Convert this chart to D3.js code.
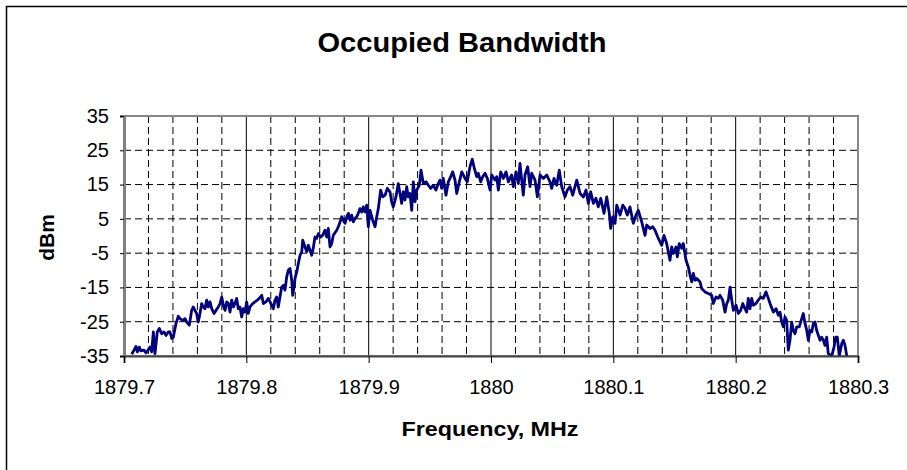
<!DOCTYPE html>
<html><head><meta charset="utf-8">
<script src="https://cdn.jsdelivr.net/npm/d3@7"></script>
<style>html,body{margin:0;padding:0;background:#fff;} svg{display:block;font-family:Arial,"Liberation Sans",sans-serif;}</style>
</head><body><svg id="c" width="907" height="470"></svg>
<script>
const chartTitle = "Occupied Bandwidth";
const xTitle = "Frequency, MHz";
const yTitle = "dBm";
const xTicks = [1879.7,1879.8,1879.9,1880,1880.1,1880.2,1880.3];
const xTickLabels = ["1879.7","1879.8","1879.9","1880","1880.1","1880.2","1880.3"];
const yTicks = [-35,-25,-15,-5,5,15,25,35];
const yTickLabels = ["-35","-25","-15","-5","5","15","25","35"];
const freq = [
1879.7063,1879.7082,1879.7098,1879.7109,1879.7125,1879.7137,1879.7163,1879.7180,1879.7199,1879.7213,1879.7226,1879.7240,1879.7253,1879.7272,1879.7289,1879.7308,1879.7327,1879.7343,1879.7362,1879.7376,1879.7390,1879.7403,1879.7425,1879.7444,1879.7458,1879.7480,1879.7499,1879.7513,1879.7534,1879.7553,1879.7566,1879.7580,1879.7594,1879.7607,1879.7621,1879.7635,1879.7648,1879.7662,1879.7676,1879.7689,1879.7703,1879.7717,1879.7736,1879.7752,1879.7771,1879.7785,1879.7799,1879.7812,1879.7826,1879.7840,1879.7853,1879.7867,1879.7880,1879.7894,1879.7907,1879.7921,1879.7934,
1879.7948,1879.7962,1879.7975,1879.7989,1879.8003,1879.8016,1879.8030,1879.8052,1879.8071,1879.8090,1879.8106,1879.8126,1879.8139,1879.8161,1879.8180,1879.8194,1879.8221,1879.8234,1879.8248,1879.8261,1879.8275,1879.8289,1879.8302,1879.8316,1879.8330,1879.8343,1879.8357,1879.8371,1879.8379,1879.8390,1879.8398,1879.8412,1879.8425,1879.8439,1879.8453,1879.8461,1879.8480,1879.8494,1879.8507,1879.8520,1879.8534,1879.8547,1879.8561,1879.8575,1879.8588,1879.8608,1879.8624,1879.8643,1879.8657,1879.8670,1879.8684,1879.8698,1879.8711,1879.8739,1879.8752,1879.8766,1879.8780,1879.8793,1879.8807,1879.8821,1879.8834,1879.8848,1879.8861,1879.8875,1879.8888,1879.8902,1879.8915,1879.8929,1879.8943,1879.8956,1879.8970,1879.8984,1879.8997,1879.9011,
1879.9033,1879.9052,1879.9066,1879.9079,1879.9098,1879.9115,1879.9134,1879.9152,1879.9174,1879.9188,1879.9201,1879.9223,1879.9242,1879.9256,1879.9270,1879.9283,1879.9297,1879.9311,1879.9324,1879.9338,1879.9352,1879.9365,1879.9379,1879.9393,1879.9414,1879.9428,1879.9447,1879.9469,1879.9488,1879.9507,1879.9528,1879.9550,1879.9569,1879.9583,1879.9597,1879.9610,1879.9632,1879.9651,1879.9671,1879.9687,1879.9706,1879.9720,1879.9741,1879.9761,1879.9788,1879.9806,1879.9828,1879.9847,1879.9864,1879.9883,1879.9896,1879.9916,1879.9932,1879.9951,1879.9970,1879.9992,
1880.0006,1880.0033,1880.0047,1880.0060,1880.0079,1880.0101,1880.0123,1880.0142,1880.0169,1880.0182,1880.0204,1880.0223,1880.0237,1880.0251,1880.0264,1880.0278,1880.0300,1880.0319,1880.0333,1880.0360,1880.0379,1880.0401,1880.0428,1880.0456,1880.0482,1880.0496,1880.0515,1880.0537,1880.0558,1880.0578,1880.0605,1880.0624,1880.0646,1880.0668,1880.0701,1880.0728,1880.0755,1880.0777,1880.0796,1880.0815,1880.0837,1880.0858,1880.0877,1880.0897,1880.0924,1880.0946,1880.0967,1880.0978,1880.0995,1880.1014,1880.1028,1880.1055,1880.1077,1880.1096,1880.1114,1880.1136,1880.1163,1880.1185,1880.1204,1880.1232,1880.1259,1880.1273,1880.1300,1880.1322,1880.1341,1880.1368,1880.1396,1880.1414,1880.1436,1880.1463,1880.1477,1880.1490,
1880.1512,1880.1523,1880.1539,1880.1559,1880.1572,1880.1594,1880.1613,1880.1627,1880.1641,1880.1654,1880.1668,1880.1682,1880.1709,1880.1722,1880.1749,1880.1776,1880.1804,1880.1817,1880.1839,1880.1858,1880.1872,1880.1894,1880.1913,1880.1927,1880.1940,1880.1954,1880.1968,1880.1981,1880.2003,1880.2022,1880.2041,1880.2058,1880.2076,1880.2090,1880.2103,1880.2117,1880.2131,1880.2144,1880.2166,1880.2185,1880.2205,1880.2226,1880.2248,1880.2267,1880.2281,1880.2308,1880.2330,1880.2349,1880.2363,1880.2376,1880.2390,1880.2403,1880.2417,1880.2430,1880.2444,1880.2458,1880.2471,1880.2485,1880.2499,1880.2520,1880.2540,1880.2553,1880.2567,1880.2581,1880.2594,1880.2608,1880.2622,1880.2635,1880.2649,1880.2662,1880.2676,1880.2690,1880.2703,1880.2717,1880.2730,1880.2744,1880.2757,1880.2785,1880.2804,1880.2818,1880.2831,1880.2847,1880.2867,1880.2880,1880.2894,1880.2908
];
const dbm = [
-34.5,-33.3,-32.2,-33.8,-32.4,-33.5,-33.3,-34.1,-33.1,-32.4,-33.8,-28.0,-34.3,-28.0,-27.0,-28.5,-28.0,-29.0,-28.0,-28.0,-29.9,-29.5,-25.5,-23.4,-24.1,-24.6,-24.1,-25.1,-26.0,-21.7,-20.7,-21.7,-22.6,-25.1,-22.6,-19.7,-20.7,-21.2,-18.7,-20.7,-19.2,-21.2,-22.6,-21.7,-20.7,-19.7,-17.8,-20.2,-21.7,-19.2,-19.7,-22.2,-18.7,-20.7,-19.7,-18.2,-21.2,
-20.7,-23.6,-21.2,-22.2,-19.2,-22.6,-20.7,-19.7,-19.2,-18.7,-18.2,-17.3,-19.7,-19.2,-18.2,-19.2,-21.2,-18.7,-17.8,-20.7,-17.8,-14.9,-14.4,-15.8,-11.9,-10.0,-9.5,-12.9,-17.3,-14.9,-12.4,-10.5,-8.0,-5.6,-4.6,-1.2,-3.2,-4.6,-2.7,-4.1,-5.6,-3.6,-0.3,-0.7,0.7,-0.3,0.2,1.7,-0.3,2.2,-3.2,-2.2,0.2,1.7,2.7,4.1,5.6,4.6,3.7,5.6,6.6,4.6,6.1,4.1,5.1,5.6,6.6,8.0,7.0,8.5,7.0,9.0,2.7,7.5,
4.6,2.7,5.6,8.0,13.4,11.4,11.9,13.9,12.9,10.0,8.5,11.4,15.3,12.4,9.5,12.9,10.5,14.4,11.4,12.4,7.5,15.8,10.0,13.4,14.8,19.2,15.3,15.8,14.8,13.9,14.8,13.4,15.3,16.3,13.9,16.8,11.9,15.8,17.3,18.7,16.3,12.4,15.8,18.7,16.8,15.8,20.2,22.4,19.7,17.3,18.3,15.8,17.3,18.3,16.8,13.4,
17.8,16.3,17.3,13.4,18.7,16.8,18.7,15.8,17.8,14.4,18.7,15.3,21.2,16.3,11.9,17.8,20.2,14.4,18.3,16.3,11.4,17.8,16.8,17.8,15.8,13.9,16.8,14.8,19.2,14.4,11.4,13.4,14.4,11.9,16.3,12.4,11.4,13.4,9.5,12.9,9.5,11.0,8.5,11.0,6.6,11.4,6.6,2.2,5.6,3.7,9.0,6.1,9.0,8.0,6.1,8.5,3.7,6.1,7.5,4.1,0.2,3.2,2.2,2.7,1.7,-0.7,-2.7,0.2,-2.2,-7.1,-3.2,-5.1,
-3.2,-6.1,-2.2,-3.6,-2.2,-7.1,-9.0,-11.4,-13.4,-10.9,-12.9,-12.4,-13.4,-15.3,-16.3,-16.8,-17.3,-19.7,-17.8,-18.2,-17.3,-18.7,-22.2,-19.7,-18.7,-14.9,-18.7,-21.7,-20.2,-22.6,-21.7,-19.7,-21.2,-22.2,-18.2,-21.2,-18.2,-20.2,-19.7,-18.7,-17.8,-18.2,-16.3,-18.2,-19.7,-22.2,-21.2,-23.1,-22.2,-25.1,-26.5,-23.6,-24.6,-33.3,-30.4,-25.1,-27.5,-28.5,-26.5,-26.5,-24.1,-22.6,-25.5,-27.5,-30.4,-27.5,-28.0,-25.5,-25.1,-27.5,-29.0,-30.4,-29.5,-30.4,-31.9,-29.5,-34.3,-35,-32.4,-29.5,-29.5,-35,-31.4,-30.4,-31.9,-35
];

const svg = d3.select("#c");
const L = 124, R = 858, T = 116, B = 356;
const x = d3.scaleLinear().domain([1879.7, 1880.3]).range([L, R]);
const y = d3.scaleLinear().domain([-35, 35]).range([B, T]);

// outer chart frame (extends beyond the visible area)
svg.append("path").attr("d", "M6.5,480V6.5H920").attr("fill", "none").attr("stroke", "#000").attr("stroke-width", 1.5);

// title
svg.append("text").attr("x", 462).attr("y", 52).attr("text-anchor", "middle")
  .attr("font-size", 27).attr("font-weight", "bold").attr("textLength", 289).attr("lengthAdjust", "spacingAndGlyphs")
  .text(chartTitle);

const g = svg.append("g");
// minor vertical dashed gridlines every 0.02
const minor = d3.range(1, 30).filter(i => i % 5 !== 0).map(i => 1879.7 + i * 0.02);
g.selectAll("line.vmin").data(minor).join("line").attr("class", "vmin")
  .attr("x1", d => x(d)).attr("x2", d => x(d)).attr("y1", T).attr("y2", B)
  .attr("stroke", "#000").attr("stroke-width", 1).attr("stroke-dasharray", "7,4");
// horizontal dashed gridlines
g.selectAll("line.hg").data(yTicks.slice(1, -1)).join("line").attr("class", "hg")
  .attr("x1", L).attr("x2", R).attr("y1", d => y(d)).attr("y2", d => y(d))
  .attr("stroke", "#000").attr("stroke-width", 1).attr("stroke-dasharray", "7,4");
// major vertical solid gridlines
g.selectAll("line.vmaj").data(xTicks.slice(1, -1)).join("line").attr("class", "vmaj")
  .attr("x1", d => x(d)).attr("x2", d => x(d)).attr("y1", T).attr("y2", B)
  .attr("stroke", "#000").attr("stroke-width", 1);

// plot border
svg.append("rect").attr("x", L).attr("y", T).attr("width", R - L).attr("height", B - T)
  .attr("fill", "none").attr("stroke", "#888").attr("stroke-width", 2);

// clip + data line
svg.append("clipPath").attr("id", "clip").append("rect").attr("x", L).attr("y", T - 2).attr("width", R - L).attr("height", B - T + 3);
const pts = freq.map((f, i) => [f, dbm[i]]);
svg.append("path").datum(pts).attr("clip-path", "url(#clip)")
  .attr("fill", "none").attr("stroke", "#000080").attr("stroke-width", 2.8).attr("stroke-linejoin", "round")
  .attr("d", d3.line().x(d => x(d[0])).y(d => y(d[1])));

// axes
const yAxis = d3.axisLeft(y).tickValues(yTicks).tickSize(4).tickFormat((d, i) => yTickLabels[i]);
const ya = svg.append("g").attr("transform", `translate(${L},0)`).call(yAxis);
ya.select(".domain").attr("stroke", "#808080").attr("stroke-width", 3);
ya.selectAll(".tick line").attr("stroke", "#000");
ya.selectAll(".tick text").attr("font-size", 20).attr("font-family", "Arial, 'Liberation Sans', sans-serif").attr("fill", "#000").attr("x", -15);

const xAxis = d3.axisBottom(x).tickValues(xTicks).tickSize(7).tickFormat((d, i) => xTickLabels[i]);
const xa = svg.append("g").attr("transform", `translate(0,${B})`).call(xAxis);
xa.select(".domain").attr("stroke", "#444").attr("stroke-width", 2);
xa.selectAll(".tick line").attr("stroke", "#000");
xa.selectAll(".tick text").attr("font-size", 20).attr("font-family", "Arial, 'Liberation Sans', sans-serif").attr("fill", "#000").attr("y", 24).attr("dy", "0.71em");

// axis titles
svg.append("text").attr("x", 490).attr("y", 436).attr("text-anchor", "middle")
  .attr("font-size", 21).attr("font-weight", "bold").attr("textLength", 177).attr("lengthAdjust", "spacingAndGlyphs")
  .text(xTitle);
svg.append("text").attr("transform", "translate(54,237.5) rotate(-90)").attr("text-anchor", "middle")
  .attr("font-size", 21).attr("font-weight", "bold").text(yTitle);
</script></body></html>
